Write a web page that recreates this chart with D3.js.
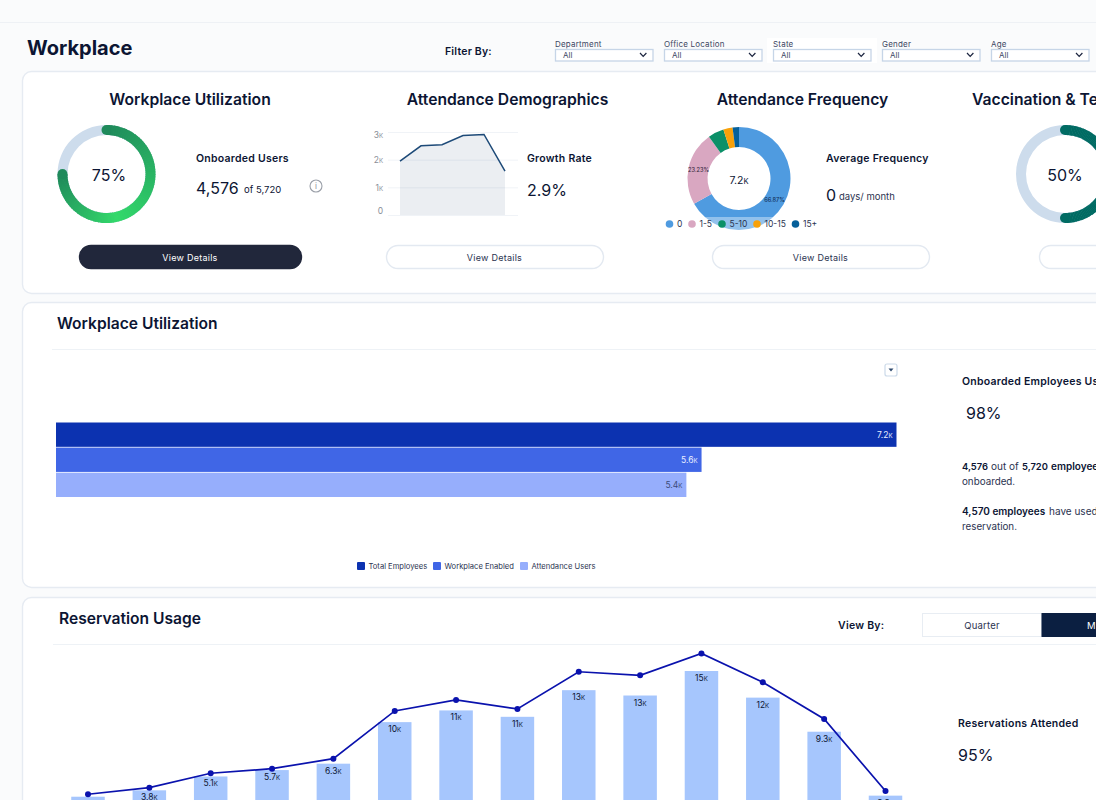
<!DOCTYPE html>
<html>
<head>
<meta charset="utf-8">
<title>Workplace</title>
<script src="https://cdn.jsdelivr.net/npm/d3@7"></script>
<style>
    html, body { margin: 0; padding: 0; background: #fafbfc; overflow: hidden; }
    svg { display: block; font-family: Inter, "Noto Sans", sans-serif; }
</style>
</head>
<body>
<svg id="page" width="1096" height="800"></svg>
<script>
'use strict';

// filters in the page header
var filterNames = ['Department', 'Office Location', 'State', 'Gender', 'Age'];

// attendance demographics sparkline
var demoValues = [1950, 2500, 2540, 2870, 2910, 1590];
var demoTicks = [0, 1000, 2000, 3000];

// attendance frequency donut
var freqBuckets = ['0', '1-5', '5-10', '10-15', '15+'];
var freqShares = [66.87, 23.23, 5.0, 2.9, 2.0];
var freqColors = ['#4f9be0', '#d9a7c1', '#0b9068', '#f8a10a', '#06609a'];

// workplace utilization bars
var utilNames = ['Total Employees', 'Workplace Enabled', 'Attendance Users'];
var utilValues = [7200, 5530, 5400];
var utilLabels = ['7.2K', '5.6K', '5.4K'];
var utilColors = ['#0c32b0', '#4066e6', '#96aefc'];
var utilLabelColors = ['#e8eeff', '#e8eeff', '#3b4a78'];

// reservation usage, the x axis sits below the fold
var usagePeriods = ['1', '2', '3', '4', '5', '6', '7', '8', '9', '10', '11', '12', '13', '14'];
var attended = [3200, 3800, 5100, 5700, 6300, 10200, 11300, 10700, 13200, 12700, 15000, 12500, 9300, 3300];
var attendedLabels = ['3.2K', '3.8K', '5.1K', '5.7K', '6.3K', '10K', '11K', '11K', '13K', '13K', '15K', '12K', '9.3K', '3.3K'];
var reserved = [3430, 4050, 5400, 5830, 6770, 11250, 12280, 11440, 14930, 14590, 16650, 13940, 10500, 3730];

var INK = '#0c1533';
var SOFT = '#2b3350';
var BORDER = '#e6ebf2';

var svg = d3.select('#page');

// small helper, nearly everything on this page is a label
function label(parent, x, y, str, size, weight, fill, anchor) {
    return parent.append('text')
        .attr('x', x)
        .attr('y', y)
        .attr('font-size', size)
        .attr('font-weight', weight || 400)
        .attr('fill', fill || INK)
        .attr('text-anchor', anchor || 'start')
        .text(str);
}

// values are written with a tiny capital K
function kiloText(sel, str) {
    sel.text(null);
    if (str.slice(-1) !== 'K') {
        sel.text(str);
        return;
    }
    sel.append('tspan').text(str.slice(0, -1));
    sel.append('tspan').attr('font-size', '0.72em').text('K');
}

function card(y, h) {
    svg.append('rect')
        .attr('x', 22.5).attr('y', y + 0.5)
        .attr('width', 1120).attr('height', h)
        .attr('rx', 9)
        .attr('fill', '#fff')
        .attr('stroke', BORDER)
        .attr('stroke-width', 1.4);
}

function divider(x, y) {
    svg.append('line')
        .attr('x1', x).attr('x2', 1096)
        .attr('y1', y + 0.5).attr('y2', y + 0.5)
        .attr('stroke', '#eef2f6');
}

function button(x, w, dark, caption) {
    svg.append('rect')
        .attr('x', x + 0.5).attr('y', 245.5)
        .attr('width', w).attr('height', 23)
        .attr('rx', 11.5)
        .attr('fill', dark ? '#21273b' : '#fff')
        .attr('stroke', dark ? '#21273b' : '#e3e9f1')
        .attr('stroke-width', 1.4);
    if (caption) {
        label(svg, x + w / 2, 260.5, caption, 9, 400, dark ? '#fff' : SOFT, 'middle')
            .attr('letter-spacing', 0.25);
    }
}

function ringTrack(cx, cy, color) {
    svg.append('path')
        .attr('transform', 'translate(' + cx + ',' + cy + ')')
        .attr('fill', color)
        .attr('d', d3.arc().innerRadius(39).outerRadius(49).startAngle(0).endAngle(2 * Math.PI)());
}

// a ring arc from 12 o'clock, coloured per small step, with round ends
function ringArc(cx, cy, share, colorAt) {
    var g = svg.append('g').attr('transform', 'translate(' + cx + ',' + cy + ')');
    var end = share * 2 * Math.PI;
    var steps = d3.range(0, 90);
    var arc = d3.arc().innerRadius(39).outerRadius(49);

    g.selectAll('path').data(steps).enter().append('path')
        .attr('fill', function (d) { return colorAt(d / 89); })
        .attr('d', function (d) {
            return arc({
                startAngle: end * d / 90,
                endAngle: Math.min(end, end * (d + 1.3) / 90)
            });
        });

    [[0, 0], [end, 1]].forEach(function (e) {
        g.append('circle')
            .attr('cx', 44 * Math.sin(e[0]))
            .attr('cy', -44 * Math.cos(e[0]))
            .attr('r', 5)
            .attr('fill', colorAt(e[1]));
    });
}

/** page header **/
svg.append('line')
    .attr('x1', 0).attr('x2', 1096).attr('y1', 22.5).attr('y2', 22.5)
    .attr('stroke', '#eef1f5');

label(svg, 27, 55, 'Workplace', 20, 700);
label(svg, 445, 55, 'Filter By:', 10.5, 600).attr('letter-spacing', 0.2);

svg.append('rect')
    .attr('x', 767).attr('y', 38).attr('width', 110).attr('height', 25)
    .attr('fill', '#fff');

var filterX = d3.scalePoint().domain(filterNames).range([555, 991]);

filterNames.forEach(function (name) {
    var x = filterX(name);
    label(svg, x, 47, name, 8, 400, '#3d4763').attr('letter-spacing', 0.2);
    svg.append('rect')
        .attr('x', x + 0.5).attr('y', 49.5)
        .attr('width', 97.5).attr('height', 11.5)
        .attr('fill', '#fff')
        .attr('stroke', '#c6d5e7')
        .attr('stroke-width', 1.3);
    label(svg, x + 8, 58, 'All', 8, 400, '#3d4763');
    svg.append('path')
        .attr('d', 'M' + (x + 85) + ' 53 l3.2 3.4 l3.2 -3.4')
        .attr('fill', 'none')
        .attr('stroke', '#1c2540')
        .attr('stroke-width', 1.2);
});

/** top card, the four summaries **/
card(71, 222);

label(svg, 190, 105, 'Workplace Utilization', 15.7, 600, INK, 'middle');
label(svg, 507.5, 105, 'Attendance Demographics', 15.7, 600, INK, 'middle');
label(svg, 802.5, 105, 'Attendance Frequency', 15.7, 600, INK, 'middle');
label(svg, 972, 105, 'Vaccination & Te', 15.7, 600);

// workplace utilization ring
var greenAt = d3.scaleLinear()
    .domain([0, 0.62, 1])
    .range(['#1f8a5b', '#33d96b', '#1f8a5b']);

ringTrack(106.5, 174, '#cddcec');
ringArc(106.5, 174, 0.75, greenAt);
label(svg, 109, 180.5, '75%', 16, 400, INK, 'middle');

label(svg, 196, 162, 'Onboarded Users', 10.5, 600).attr('letter-spacing', 0.25);
label(svg, 196, 194, '4,576', 16, 400);
label(svg, 244, 193, 'of 5,720', 9.5, 400);

svg.append('circle')
    .attr('cx', 316).attr('cy', 186).attr('r', 6)
    .attr('fill', 'none').attr('stroke', '#9a9fa8').attr('stroke-width', 1.1);
label(svg, 316, 189, 'i', 8, 400, '#8a8f98', 'middle');

button(79, 222, true, 'View Details');

// attendance demographics sparkline
var demoX = d3.scalePoint().domain(d3.range(demoValues.length)).range([400, 505]);
var demoY = d3.scaleLinear().domain([0, 3000]).range([215, 132]);

var demoAxis = d3.axisLeft(demoY)
    .tickValues(demoTicks)
    .tickSize(-130)
    .tickPadding(5)
    .tickFormat(function (d) { return d === 0 ? '0' : (d / 1000) + 'K'; });

var demoG = svg.append('g')
    .attr('transform', 'translate(388,0)')
    .call(demoAxis);

demoG.select('.domain').remove();
demoG.selectAll('line').attr('stroke', '#f0f3f7');
demoG.selectAll('text')
    .attr('font-family', 'Inter')
    .attr('font-size', 8.5)
    .attr('fill', '#8a8f98')
    // the first and last labels sit a little inside their grid lines
    .attr('y', function (d) { return d === 0 ? -4 : (d === 3000 ? 3 : 0); })
    .each(function (d) {
        if (d > 0) kiloText(d3.select(this), (d / 1000) + 'K');
    });

svg.append('path')
    .datum(demoValues)
    .attr('fill', '#1f3f6b')
    .attr('fill-opacity', 0.09)
    .attr('d', d3.area()
        .x(function (d, i) { return demoX(i); })
        .y0(demoY(0))
        .y1(function (d) { return demoY(d); }));

svg.append('path')
    .datum(demoValues)
    .attr('fill', 'none')
    .attr('stroke', '#1d4a78')
    .attr('stroke-width', 1.5)
    .attr('d', d3.line()
        .x(function (d, i) { return demoX(i); })
        .y(function (d) { return demoY(d); }));

label(svg, 527, 162, 'Growth Rate', 10.5, 600).attr('letter-spacing', 0.25);
label(svg, 527, 196, '2.9%', 16, 400);
button(386, 217, false, 'View Details');

// attendance frequency donut
var freqG = svg.append('g').attr('transform', 'translate(739,178.5)');
var freqArc = d3.arc().innerRadius(31.5).outerRadius(51.5);
var freqPie = d3.pie().sort(null)(freqShares);

freqG.selectAll('path').data(freqPie).enter().append('path')
    .attr('d', freqArc)
    .attr('fill', function (d, i) { return freqColors[i]; });

label(freqG, -40.5, -6.5, '23.23%', 5.6, 500, '#3a2d44', 'middle');
label(freqG, 35.5, 23.5, '66.87%', 5.6, 500, '#12305a', 'middle');
kiloText(label(freqG, 0, 5, '', 10.5, 400, INK, 'middle'), '7.2K');

// the legend band lies over the bottom of the donut
svg.append('rect')
    .attr('x', 664).attr('y', 217).attr('width', 152).attr('height', 14)
    .attr('fill', '#fff').attr('fill-opacity', 0.38);

var freqLegendX = d3.scaleOrdinal().domain(freqBuckets).range([669.5, 692, 722, 757, 795.5]);

freqBuckets.forEach(function (name, i) {
    svg.append('circle')
        .attr('cx', freqLegendX(name)).attr('cy', 224).attr('r', 3.8)
        .attr('fill', freqColors[i]);
    label(svg, freqLegendX(name) + 7.5, 227, name, 8.5, 400, SOFT);
});

label(svg, 826, 162, 'Average Frequency', 10.5, 600).attr('letter-spacing', 0.25);
label(svg, 826, 201, '0', 16, 400);
label(svg, 839, 200, 'days/ month', 9.5, 400, SOFT);
button(712, 217, false, 'View Details');

// vaccination ring, runs off the page edge like the rest of that column
ringTrack(1065, 174, '#cddcec');
ringArc(1065, 174, 0.5, function () { return '#006b63'; });
label(svg, 1065, 180.5, '50%', 16, 400, INK, 'middle');
button(1039, 217, false);

/** workplace utilization card **/
card(302, 285);

label(svg, 57, 328.5, 'Workplace Utilization', 15.6, 600);
divider(52, 349);

svg.append('rect')
    .attr('x', 885).attr('y', 364).attr('width', 12).attr('height', 12)
    .attr('rx', 2)
    .attr('fill', '#fff')
    .attr('stroke', '#ccdae9')
    .attr('stroke-width', 1.2);
svg.append('path').attr('d', 'M888.5 368.5 h5 l-2.5 3 z').attr('fill', '#2f4a6e');

var utilX = d3.scaleLinear().domain([0, 7200]).range([56, 896.5]);
var utilY = d3.scaleBand().domain(utilNames).range([422.5, 497]).paddingInner(0.03);

svg.selectAll('.util-bar').data(utilValues).enter().append('rect')
    .attr('class', 'util-bar')
    .attr('x', utilX(0))
    .attr('y', function (d, i) { return utilY(utilNames[i]); })
    .attr('width', function (d) { return utilX(d) - utilX(0); })
    .attr('height', utilY.bandwidth())
    .attr('fill', function (d, i) { return utilColors[i]; });

utilValues.forEach(function (d, i) {
    var t = label(svg, utilX(d) - 4, utilY(utilNames[i]) + utilY.bandwidth() / 2 + 3, '', 8.5, 400, utilLabelColors[i], 'end');
    kiloText(t, utilLabels[i]);
});

var utilLegendX = d3.scaleOrdinal().domain(utilNames).range([357, 433, 520]);

utilNames.forEach(function (name, i) {
    svg.append('rect')
        .attr('x', utilLegendX(name)).attr('y', 562)
        .attr('width', 8).attr('height', 8)
        .attr('rx', 1)
        .attr('fill', utilColors[i]);
    label(svg, utilLegendX(name) + 11.5, 569, name, 7.6, 400, SOFT);
});

label(svg, 962, 385, 'Onboarded Employees Us', 10.5, 600).attr('letter-spacing', 0.25);
label(svg, 966, 419, '98%', 16, 400);

var para1 = label(svg, 962, 470, '', 10, 400, SOFT);
para1.append('tspan').attr('font-size', 9.4).attr('font-weight', 600).attr('fill', INK).text('4,576');
para1.append('tspan').attr('x', 991).text('out of');
para1.append('tspan').attr('x', 1022).attr('font-size', 9.4).attr('font-weight', 600).attr('fill', INK).text('5,720');
para1.append('tspan').attr('x', 1051).attr('font-weight', 600).attr('fill', INK).text('employee');
label(svg, 962, 484.5, 'onboarded.', 9.8, 400, SOFT);

var para2 = label(svg, 962, 515, '', 10, 400, SOFT);
para2.append('tspan').attr('font-weight', 600).attr('fill', INK).text('4,570 employees');
para2.append('tspan').attr('x', 1049).text('have used');
label(svg, 962, 529.5, 'reservation.', 9.8, 400, SOFT);

/** reservation usage card **/
card(597, 260);

label(svg, 59, 623.5, 'Reservation Usage', 15.6, 600);
divider(53, 644);

label(svg, 838, 629, 'View By:', 10.5, 600).attr('letter-spacing', 0.25);
svg.append('rect')
    .attr('x', 922.5).attr('y', 613.5).attr('width', 119).attr('height', 23)
    .attr('fill', '#fff').attr('stroke', '#e8edf3');
svg.append('rect')
    .attr('x', 1041.5).attr('y', 613).attr('width', 55).attr('height', 24)
    .attr('fill', '#0b1f41');
label(svg, 982, 628.5, 'Quarter', 9.5, 400, SOFT, 'middle').attr('letter-spacing', 0.2);
label(svg, 1087, 628.5, 'M', 9.5, 400, '#fff');

// same value scale for the bars and the line, the baseline is off the page
var usageX = d3.scalePoint().domain(usagePeriods).range([88, 885.5]);
var usageY = d3.scaleLinear().domain([0, 15000]).range([830.8, 671]);
var barW = 33.5;

svg.selectAll('.usage-bar').data(attended).enter().append('rect')
    .attr('class', 'usage-bar')
    .attr('x', function (d, i) { return usageX(usagePeriods[i]) - barW / 2; })
    .attr('y', function (d) { return usageY(d); })
    .attr('width', barW)
    .attr('height', function (d) { return usageY(0) - usageY(d); })
    .attr('fill', '#a6c6fd');

attended.forEach(function (d, i) {
    var t = label(svg, usageX(usagePeriods[i]), usageY(d) + 10, '', 8.5, 400, INK, 'middle');
    kiloText(t, attendedLabels[i]);
});

svg.append('path')
    .datum(reserved)
    .attr('fill', 'none')
    .attr('stroke', '#0a12ad')
    .attr('stroke-width', 1.7)
    .attr('d', d3.line()
        .x(function (d, i) { return usageX(usagePeriods[i]); })
        .y(function (d) { return usageY(d); }));

svg.selectAll('.usage-dot').data(reserved).enter().append('circle')
    .attr('class', 'usage-dot')
    .attr('cx', function (d, i) { return usageX(usagePeriods[i]); })
    .attr('cy', function (d) { return usageY(d); })
    .attr('r', 3)
    .attr('fill', '#0a12ad');

label(svg, 958, 727, 'Reservations Attended', 10.5, 600).attr('letter-spacing', 0.25);
label(svg, 958, 761, '95%', 16, 400);
</script>
</body>
</html>
